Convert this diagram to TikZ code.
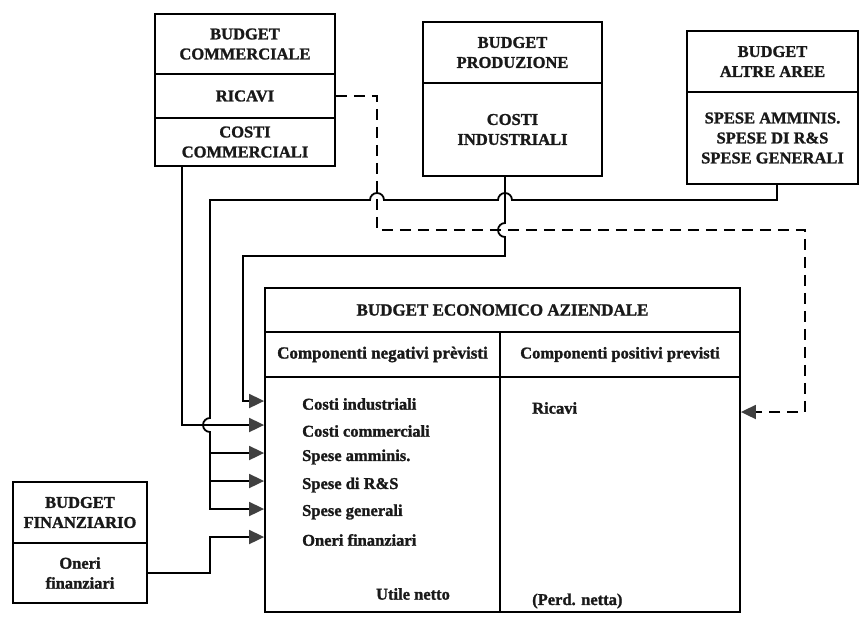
\documentclass[tikz,border=0pt]{standalone}
\usepackage{fontspec}
\setmainfont{Liberation Serif}[BoldFeatures={FakeBold=1.4}]
\usetikzlibrary{arrows.meta}
\begin{document}
\begin{tikzpicture}[x=1pt,y=-1pt,
  every node/.style={font=\bfseries\fontsize{16.5}{20}\selectfont, inner sep=0pt, text=black!90},
  box/.style={draw, line width=1.8pt, rectangle, align=center},
  wire/.style={line width=1.8pt},
  tip/.style={-{Triangle[length=15pt,width=14pt,color=black!75]}},
  feed/.style={wire, tip},
  dwire/.style={wire, dash pattern=on 11pt off 7pt},
]
\useasboundingbox (0,0) rectangle (861,625);

% source budgets
\node[box, minimum width=180pt, minimum height=60pt] (comhead) at (245,44) {BUDGET\\COMMERCIALE};
\node[box, minimum width=180pt, minimum height=44pt] (comric) at (245,96) {RICAVI};
\node[box, minimum width=180pt, minimum height=48pt] (comcost) at (245,142) {COSTI\\COMMERCIALI};

\node[box, minimum width=179pt, minimum height=61pt] (prodhead) at (512.5,52.5) {BUDGET\\PRODUZIONE};
\node[box, minimum width=179pt, minimum height=93pt] (prodbody) at (512.5,129.5) {COSTI\\INDUSTRIALI};

\node[box, minimum width=171pt, minimum height=61pt] (althead) at (772.5,61.5) {BUDGET\\ALTRE AREE};
\node[box, minimum width=171pt, minimum height=92pt] (altbody) at (772.5,138) {SPESE AMMINIS.\\SPESE DI R\&S\\SPESE GENERALI};

\node[box, minimum width=134pt, minimum height=61pt] (finhead) at (80,512.5) {BUDGET\\FINANZIARIO};
\node[box, minimum width=134pt, minimum height=60pt] (finbody) at (80,573) {Oneri\\finanziari};

% company-wide income budget
\node[box, minimum width=475pt, minimum height=44pt, font=\bfseries\fontsize{17}{20}\selectfont] (title) at (502.5,310) {BUDGET ECONOMICO AZIENDALE};
\node[box, minimum width=235pt, minimum height=45pt, font=\bfseries\fontsize{17}{20}\selectfont] (lhead) at (382.5,354.5) {Componenti negativi prèvisti};
\node[box, minimum width=240pt, minimum height=45pt] (rhead) at (620,354.5) {Componenti positivi previsti};
\node[box, minimum width=235pt, minimum height=235pt] (lbody) at (382.5,494.5) {};
\node[box, minimum width=240pt, minimum height=235pt] (rbody) at (620,494.5) {};

\node[anchor=west] (rCI) at (302,404) {Costi industriali};
\node[anchor=west] (rCC) at (302,431) {Costi commerciali};
\node[anchor=west] (rSA) at (302,457) {Spese amminis.};
\node[anchor=west] (rSR) at (302,485) {Spese di R\&S};
\node[anchor=west] (rSG) at (302,512) {Spese generali};
\node[anchor=west] (rOF) at (302,540) {Oneri finanziari};
\node (util) at (413,594) {Utile netto};
\node[anchor=west] (ricavi) at (532,408) {Ricavi};
\node[anchor=west] (perd) at (532,601) {(Perd. netta)};

% arrow levels
\coordinate (yCI) at (0,401);
\coordinate (yCC) at (0,425);
\coordinate (ySA) at (0,453);
\coordinate (ySR) at (0,481);
\coordinate (ySG) at (0,509);
\coordinate (yOF) at (0,537);

% routing points
\coordinate (bR) at (777,200);
\coordinate (bL) at (210,200);
\coordinate (cT) at (505,256);
\coordinate (cL) at (243,256);
\coordinate (dC) at (377,230);
\coordinate (dE) at (805,412);
\coordinate (fK) at (210,537);

% commercial costs
\draw[feed] ([xshift=-63pt]comcost.south) |- (lbody.west |- yCC);

% other areas: admin, R&D, general expenses
\draw[feed] (altbody.south -| bR) -- (bR) -- (512,200)
  arc[start angle=0,end angle=180,radius=7pt] -- (384,200)
  arc[start angle=0,end angle=180,radius=7pt] -- (bL) -- (210,418)
  arc[start angle=90,end angle=270,radius=7pt] -- (bL |- ySG) -- (lbody.west |- ySG);
\draw[feed] (bL |- ySA) -- (lbody.west |- ySA);
\draw[feed] (bL |- ySR) -- (lbody.west |- ySR);

% industrial costs
\draw[feed] (prodbody.south -| cT) -- (505,223)
  arc[start angle=90,end angle=270,radius=7pt] -- (cT) -- (cL) -- (cL |- yCI) -- (lbody.west |- yCI);

% revenues (dashed)
\draw[dwire, tip] (comric.east) -| (dC) -| (dE) -- (rbody.east |- dE);

% financial charges
\draw[feed] (finbody.east) -| (fK) -- (lbody.west |- yOF);
\end{tikzpicture}
\end{document}
